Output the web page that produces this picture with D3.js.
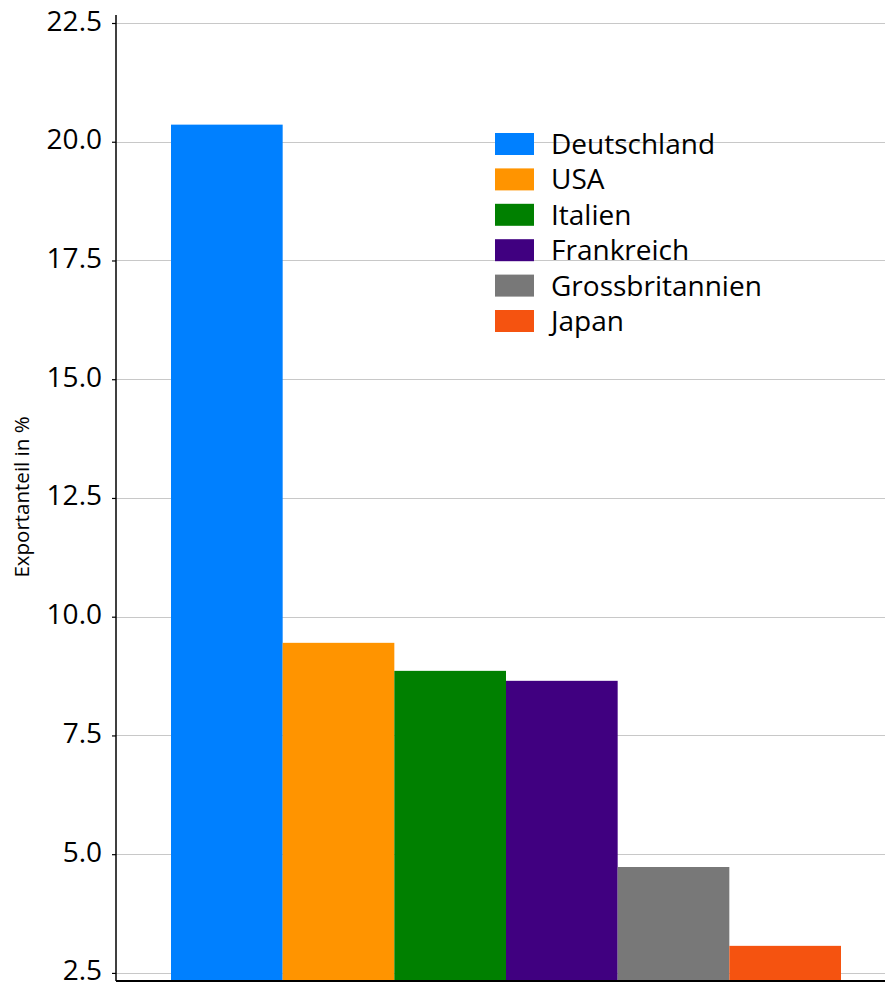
<!DOCTYPE html>
<html><head><meta charset="utf-8">
<script src="https://cdn.jsdelivr.net/npm/d3@7"></script>
<style>body{margin:0;background:#fff}svg{display:block}text{font-family:"Open Sans",sans-serif}</style>
</head><body><svg id="c" width="885" height="984"></svg>
<script>
const categories = ["Deutschland","USA","Italien","Frankreich","Grossbritannien","Japan"];
const values = [20.36, 9.45, 8.86, 8.65, 4.73, 3.07];
const colors = ["#0080ff","#ff9400","#008000","#400080","#787878","#f55310"];
const yTicks = [2.5,5.0,7.5,10.0,12.5,15.0,17.5,20.0,22.5];
const yLabel = "Exportanteil in %";

(function(){
const svg = d3.select("#c");
const pLeft = 116, pRight = 885, pTop = 15, pBottom = 981;
const y = d3.scaleLinear().domain([2.33, 22.5]).range([pBottom, 23]);
const x = d3.scaleBand().domain(categories).range([171, 841]).padding(0);

// gridlines
svg.append("g").selectAll("line").data(yTicks).join("line")
  .attr("x1", pLeft).attr("x2", pRight)
  .attr("y1", d => Math.round(y(d)) + 0.5).attr("y2", d => Math.round(y(d)) + 0.5)
  .attr("stroke", "#c8c8c8").attr("stroke-width", 1.2);

// bars
svg.append("g").selectAll("rect").data(categories).join("rect")
  .attr("x", d => x(d)).attr("width", x.bandwidth())
  .attr("y", (d, i) => y(values[i])).attr("height", (d, i) => y(2.33) - y(values[i]))
  .attr("fill", (d, i) => colors[i]);

// y axis
const ax = svg.append("g").attr("transform", `translate(${pLeft},0)`)
  .call(d3.axisLeft(y).tickValues(yTicks).tickFormat(d3.format(".1f")).tickSize(4).tickPadding(10));
ax.select(".domain").attr("d", `M0,${pTop}V${pBottom}`).attr("stroke", "#000").attr("stroke-width", 1.5);
ax.selectAll(".tick line").attr("stroke", "#000").attr("stroke-width", 1.2);
ax.selectAll(".tick text").attr("font-size", 28).attr("dy", "0.25em").attr("fill", "#000").attr("font-family", "'Open Sans',sans-serif");

// x axis baseline
svg.append("line").attr("x1", pLeft).attr("x2", pRight).attr("y1", pBottom).attr("y2", pBottom)
  .attr("stroke", "#000").attr("stroke-width", 2);

// y label
svg.append("text").attr("transform", `translate(29,497) rotate(-90)`)
  .attr("text-anchor", "middle").attr("font-size", 20.5).attr("fill", "#000").text(yLabel);

// legend
const lg = svg.append("g").selectAll("g").data(categories).join("g")
  .attr("transform", (d, i) => `translate(495,${133 + i * 35.4})`);
lg.append("rect").attr("width", 39).attr("height", 22).attr("fill", (d, i) => colors[i]);
lg.append("text").attr("x", 56).attr("y", 11).attr("dy", "0.36em")
  .attr("font-size", 28).attr("fill", "#000").text(d => d);
})();
</script></body></html>
